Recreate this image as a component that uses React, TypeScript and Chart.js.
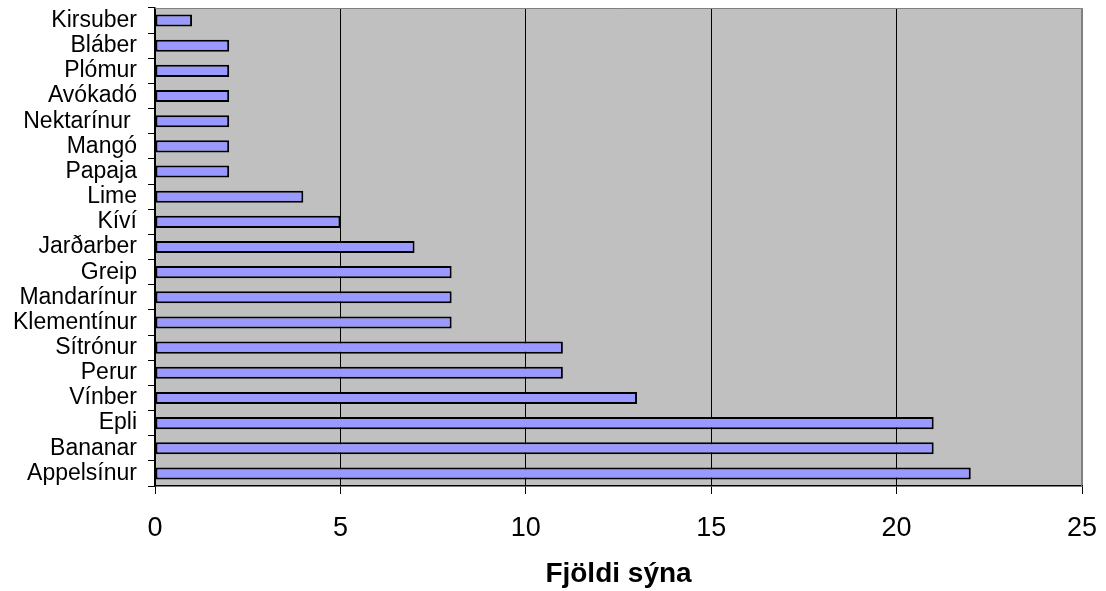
import React, { useEffect, useRef } from "react";
import { Chart, registerables } from "chart.js";

Chart.register(...registerables);

const categories = [
  "Kirsuber", "Bláber", "Plómur", "Avókadó", "Nektarínur ", "Mangó", "Papaja",
  "Lime", "Kíví", "Jarðarber", "Greip", "Mandarínur", "Klementínur", "Sítrónur",
  "Perur", "Vínber", "Epli", "Bananar", "Appelsínur",
];
const values = [1, 2, 2, 2, 2, 2, 2, 4, 5, 7, 8, 8, 8, 11, 11, 13, 21, 21, 22];
const xMin = 0;
const xMax = 25;
const xStep = 5;
const xTitle = "Fjöldi sýna";

const FONT = 'Arial, "Liberation Sans", sans-serif';

const plotBg = {
  id: "plotBg",
  beforeDraw(chart: any) {
    const { ctx, chartArea } = chart;
    if (!chartArea) return;
    ctx.save();
    ctx.fillStyle = "#C0C0C0";
    ctx.fillRect(chartArea.left, chartArea.top, chartArea.right - chartArea.left, chartArea.bottom - chartArea.top);
    ctx.restore();
  },
  afterDraw(chart: any) {
    const { ctx, chartArea } = chart;
    ctx.save();
    ctx.strokeStyle = "#808080";
    ctx.lineWidth = 1;
    ctx.beginPath();
    ctx.moveTo(chartArea.left, chartArea.top + 0.5);
    ctx.lineTo(chartArea.right - 0.5, chartArea.top + 0.5);
    ctx.lineTo(chartArea.right - 0.5, chartArea.bottom);
    ctx.stroke();
    ctx.restore();
  },
};

export default function App() {
  const ref = useRef<HTMLCanvasElement>(null);
  useEffect(() => {
    const chart = new Chart(ref.current!, {
      type: "bar",
      data: {
        labels: categories,
        datasets: [
          {
            data: values,
            backgroundColor: "#9999FF",
            borderColor: "#000000",
            borderWidth: 2,
            borderSkipped: false,
            categoryPercentage: 1,
            barPercentage: 0.48,
          },
        ],
      },
      options: {
        indexAxis: "y",
        animation: false,
        responsive: false,
        devicePixelRatio: 1,
        layout: { padding: { top: 8, right: 24, left: 0, bottom: 0 } },
        plugins: { legend: { display: false }, tooltip: { enabled: false } },
        scales: {
          x: {
            min: xMin,
            max: xMax,
            ticks: { stepSize: xStep, color: "#000", font: { family: FONT, size: 27 }, padding: 18 },
            grid: {
              color: (c: any) => (c.tick && c.tick.value === xMax ? "#808080" : "#000000"),
              tickColor: "#000000",
              tickLength: 8,
              lineWidth: 1,
            },
            border: { color: "#000000", width: 1.5 },
            title: {
              display: true,
              text: xTitle,
              color: "#000",
              font: { family: FONT, size: 28, weight: "bold" },
              padding: { top: 0, bottom: 0 },
            },
            afterFit: (s: any) => {
              s.height = 105;
              s.paddingLeft = 0;
              s.paddingRight = 0;
            },
          },
          y: {
            ticks: { color: "#000", font: { family: FONT, size: 23 }, padding: 11, autoSkip: false },
            grid: { drawOnChartArea: false, tickLength: 7, color: "#000", offset: true },
            border: { color: "#000000", width: 1.5 },
            afterFit: (s: any) => {
              s.width = 155;
              s.paddingTop = 0;
              s.paddingBottom = 0;
            },
          },
        },
      },
      plugins: [plotBg],
    });
    return () => chart.destroy();
  }, []);
  return (
    <div style={{ position: "absolute", left: 0, top: 0, width: 1106, height: 591, background: "#fff" }}>
      <canvas ref={ref} width={1106} height={591} style={{ display: "block" }} />
    </div>
  );
}
